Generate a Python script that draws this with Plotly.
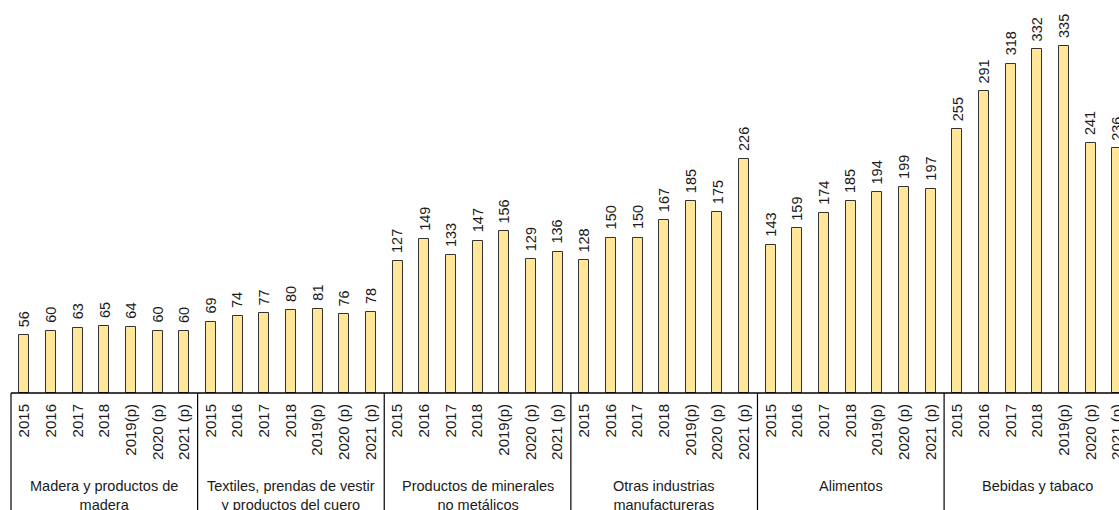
import plotly.graph_objects as go

groups = [
    "Madera y productos de<br>madera",
    "Textiles, prendas de vestir<br>y productos del cuero",
    "Productos de minerales<br>no metálicos",
    "Otras industrias<br>manufactureras",
    "Alimentos",
    "Bebidas y tabaco",
]
years = ["2015", "2016", "2017", "2018", "2019(p)", "2020 (p)", "2021 (p)"]

madera = [56, 60, 63, 65, 64, 60, 60]
textiles = [69, 74, 77, 80, 81, 76, 78]
minerales = [127, 149, 133, 147, 156, 129, 136]
otras = [128, 150, 150, 167, 185, 175, 226]
alimentos = [143, 159, 174, 185, 194, 199, 197]
bebidas = [255, 291, 318, 332, 335, 241, 236]

series = [madera, textiles, minerales, otras, alimentos, bebidas]

n_years = len(years)
values = [v for s in series for v in s]
xpos = list(range(len(values)))
ticktext = years * len(groups)

FONT = "Liberation Sans, Arial, sans-serif"
TXT = "#1a1a1a"

fig = go.Figure()
fig.add_trace(go.Bar(
    x=xpos, y=values, width=0.375,
    marker=dict(color="#FFE699", line=dict(color="#333333", width=1)),
    hoverinfo="skip",
))

# value labels
for x, v in zip(xpos, values):
    fig.add_annotation(x=x, y=v, text=str(v), textangle=-90, showarrow=False,
                       xanchor="center", yanchor="bottom", yshift=6,
                       font=dict(family=FONT, size=14.5, color=TXT))

plot_h = 393
bottom = 117
# baseline
fig.add_shape(type="line", xref="x", yref="paper", x0=-0.5, x1=len(values) - 0.5,
              y0=0, y1=0, line=dict(color="#000000", width=1.5), layer="above")
# group dividers
for g in range(len(groups) + 1):
    xb = g * n_years - 0.5
    fig.add_shape(type="line", xref="x", yref="paper", x0=xb, x1=xb,
                  y0=0, y1=-bottom / plot_h - 0.05, line=dict(color="#000000", width=1.2))
# group labels
for g, name in enumerate(groups):
    fig.add_annotation(x=g * n_years + (n_years - 1) / 2, xref="x", yref="paper",
                       y=-(476 - plot_h) / plot_h, yanchor="top", xanchor="center",
                       text=name, showarrow=False, align="center",
                       font=dict(family=FONT, size=14.5, color=TXT))

px_per_cat = 26.66
lo = -0.5 - 11 / px_per_cat
hi = lo + 1119 / px_per_cat

fig.update_layout(
    width=1119, height=510,
    margin=dict(l=0, r=0, t=0, b=bottom, autoexpand=False),
    paper_bgcolor="white", plot_bgcolor="white",
    showlegend=False,
    bargap=0,
    xaxis=dict(range=[lo, hi], tickmode="array", tickvals=xpos, ticktext=ticktext,
               tickangle=-90, ticks="outside", ticklen=4, tickcolor="rgba(0,0,0,0)",
               automargin=False, ticklabeloverflow="allow",
               showgrid=False, zeroline=False, showline=False,
               tickfont=dict(family=FONT, size=15, color=TXT)),
    yaxis=dict(range=[0, 379.3], visible=False, showgrid=False, zeroline=False,
               automargin=False),
)

fig.write_html("out.html", config={"displayModeBar": False},
               post_script="document.body.style.margin='0px';document.body.style.overflow='hidden';")
